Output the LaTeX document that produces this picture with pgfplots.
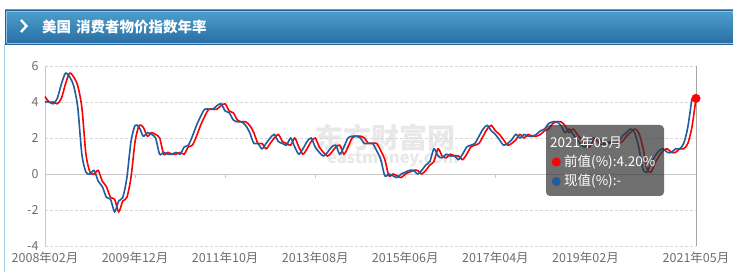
\documentclass[border=0pt]{standalone}
\usepackage{fontspec}
\setmainfont{Noto Sans CJK SC}
\usepackage{pgfplots}
\pgfplotsset{compat=1.18}
\usepackage{pgfplotstable}
\definecolor{cred}{RGB}{255,0,0}
\definecolor{cblue}{RGB}{31,93,158}
\definecolor{tickc}{RGB}{110,110,110}
\definecolor{gridc}{RGB}{215,215,215}
\definecolor{axisc}{RGB}{200,200,200}
\definecolor{hdrtop}{RGB}{76,160,206}
\definecolor{hdrbot}{RGB}{40,108,162}
\definecolor{hdrdark}{RGB}{38,100,155}
\definecolor{hdrlight}{RGB}{140,196,230}
\definecolor{panelc}{RGB}{165,208,232}
\definecolor{wmc}{RGB}{232,232,232}
\definecolor{cursorc}{RGB}{165,165,165}

\pgfplotstableread{
m prev cur
0 4.3 4.0
1 4.0 4.0
2 4.0 3.9
3 3.9 4.2
4 4.2 5.0
5 5.0 5.6
6 5.6 5.4
7 5.4 4.9
8 4.9 3.7
9 3.7 1.1
10 1.1 0.1
11 0.1 0.0
12 0.0 0.2
13 0.2 -0.4
14 -0.4 -0.7
15 -0.7 -1.3
16 -1.3 -1.4
17 -1.4 -2.1
18 -2.1 -1.5
19 -1.5 -1.3
20 -1.3 -0.2
21 -0.2 1.8
22 1.8 2.7
23 2.7 2.6
24 2.6 2.1
25 2.1 2.3
26 2.3 2.2
27 2.2 2.0
28 2.0 1.1
29 1.1 1.2
30 1.2 1.1
31 1.1 1.1
32 1.1 1.2
33 1.2 1.1
34 1.1 1.5
35 1.5 1.6
36 1.6 2.1
37 2.1 2.7
38 2.7 3.2
39 3.2 3.6
40 3.6 3.6
41 3.6 3.6
42 3.6 3.8
43 3.8 3.9
44 3.9 3.5
45 3.5 3.4
46 3.4 3.0
47 3.0 2.9
48 2.9 2.9
49 2.9 2.7
50 2.7 2.3
51 2.3 1.7
52 1.7 1.7
53 1.7 1.4
54 1.4 1.7
55 1.7 2.0
56 2.0 2.2
57 2.2 1.8
58 1.8 1.7
59 1.7 1.6
60 1.6 2.0
61 2.0 1.5
62 1.5 1.1
63 1.1 1.4
64 1.4 1.8
65 1.8 2.0
66 2.0 1.5
67 1.5 1.2
68 1.2 1.0
69 1.0 1.2
70 1.2 1.5
71 1.5 1.6
72 1.6 1.1
73 1.1 1.5
74 1.5 2.0
75 2.0 2.1
76 2.1 2.1
77 2.1 2.0
78 2.0 1.7
79 1.7 1.7
80 1.7 1.7
81 1.7 1.3
82 1.3 0.8
83 0.8 -0.1
84 -0.1 0.0
85 0.0 -0.1
86 -0.1 -0.2
87 -0.2 0.0
88 0.0 0.1
89 0.1 0.2
90 0.2 0.2
91 0.2 0.0
92 0.0 0.2
93 0.2 0.5
94 0.5 0.7
95 0.7 1.4
96 1.4 1.0
97 1.0 0.9
98 0.9 1.1
99 1.1 1.0
100 1.0 1.0
101 1.0 0.8
102 0.8 1.1
103 1.1 1.5
104 1.5 1.6
105 1.6 1.7
106 1.7 2.1
107 2.1 2.5
108 2.5 2.7
109 2.7 2.4
110 2.4 2.2
111 2.2 1.9
112 1.9 1.6
113 1.6 1.7
114 1.7 1.9
115 1.9 2.2
116 2.2 2.0
117 2.0 2.2
118 2.2 2.1
119 2.1 2.1
120 2.1 2.2
121 2.2 2.4
122 2.4 2.5
123 2.5 2.8
124 2.8 2.9
125 2.9 2.9
126 2.9 2.7
127 2.7 2.3
128 2.3 2.5
129 2.5 2.2
130 2.2 1.9
131 1.9 1.6
132 1.6 1.5
133 1.5 1.9
134 1.9 2.0
135 2.0 1.8
136 1.8 1.6
137 1.6 1.8
138 1.8 1.7
139 1.7 1.7
140 1.7 1.8
141 1.8 2.1
142 2.1 2.3
143 2.3 2.5
144 2.5 2.3
145 2.3 1.5
146 1.5 0.3
147 0.3 0.1
148 0.1 0.6
149 0.6 1.0
150 1.0 1.3
151 1.3 1.4
152 1.4 1.2
153 1.2 1.2
154 1.2 1.4
155 1.4 1.4
156 1.4 1.7
157 1.7 2.6
158 2.6 4.2
159 4.2 nan
}\cpidata

\begin{document}
\begin{tikzpicture}[x=1pt,y=1pt]
\fill[white] (0,0) rectangle (733,272);
% panel left border
\draw[panelc, line width=1pt] (4.5,0) -- (4.5,228);
% header
\shade[top color=hdrtop, bottom color=hdrbot] (5,227) rectangle (733,262);
\draw[hdrdark, line width=1pt] (5.5,227.5) -- (733,227.5);
\draw[hdrdark, line width=1pt] (5.5,227.5) -- (5.5,261.5) -- (733,261.5);
\draw[hdrlight, line width=0.8pt] (6.6,228.6) -- (733,228.6);
\draw[hdrlight, line width=0.8pt] (6.6,228.6) -- (6.6,260.4) -- (733,260.4);
\draw[white, line width=2.3pt] (21,252) -- (26.5,246) -- (21,240);
\node[anchor=west, inner sep=0, text=white, font=\fontsize{14.5}{16}\selectfont\bfseries] at (42,245) {美国\hspace{5pt}消费者物价指数年率};
% watermark
\node[text=wmc, inner sep=0, font=\fontsize{28}{30}\selectfont\bfseries] at (385,134) {东方财富网};
\node[text=wmc, inner sep=0, font=\fontsize{16.5}{17}\selectfont\bfseries] at (393,112.5) {eastmoney.com};

\begin{axis}[
  at={(45pt,26pt)}, anchor=south west,
  scale only axis, width=651pt, height=180pt,
  xmin=0, xmax=159, ymin=-4, ymax=6,
  ytick={-4,-2,0,2,4,6},
  xtick={0,22,44,66,88,110,132,159},
  xticklabels={2008年02月,2009年12月,2011年10月,2013年08月,2015年06月,2017年04月,2019年02月,2021年05月},
  axis x line*=bottom, axis y line*=left,
  x axis line style={draw=none},
  y axis line style={axisc, line width=0.8pt, -},
  major tick length=0pt,
  ymajorgrids,
  grid style={densely dashed, gridc, line width=0.6pt},
  extra y ticks={0},
  extra y tick labels={},
  extra y tick style={grid style={solid, axisc, line width=0.8pt}},
  tick label style={font=\fontsize{12.5}{14}\selectfont, text=tickc},
  /pgf/number format/assume math mode=true,
  yticklabel style={xshift=-3pt},
  xticklabel style={yshift=-2.5pt},
  clip=false,
]
\draw[cursorc, line width=0.9pt] (axis cs:159,-4) -- (axis cs:159,6);
\pgfplotsinvokeforeach{22,44,66,88,110,132}{
  \draw[axisc, line width=0.8pt] (axis cs:#1,0) -- ++(0pt,-4pt);
}
\addplot[cred, line width=1.6pt, smooth, tension=0.45] table[x=m, y=prev]{\cpidata};
\addplot[cblue, line width=1.6pt, smooth, tension=0.45] table[x=m, y=cur]{\cpidata};
\addplot[only marks, mark=*, mark size=4.3pt, cred] coordinates {(159,4.2)};
\end{axis}

% tooltip
\fill[fill={rgb,255:red,50;green,50;blue,50}, fill opacity=0.7, rounded corners=4pt] (546,76) rectangle (664,147);
\node[anchor=west, inner sep=0, text=white, font=\fontsize{13.5}{15}\selectfont] at (550,130) {2021年05月};
\fill[cred] (556.3,110) circle (4.5);
\node[anchor=west, inner sep=0, text=white, font=\fontsize{13.5}{15}\selectfont] at (564,110) {前值(\%):4.20\%};
\fill[cblue] (556.3,90.5) circle (4.5);
\node[anchor=west, inner sep=0, text=white, font=\fontsize{13.5}{15}\selectfont] at (564,90.5) {现值(\%):-};
\pgfresetboundingbox
\useasboundingbox (0,0) rectangle (733,272);
\end{tikzpicture}
\end{document}
